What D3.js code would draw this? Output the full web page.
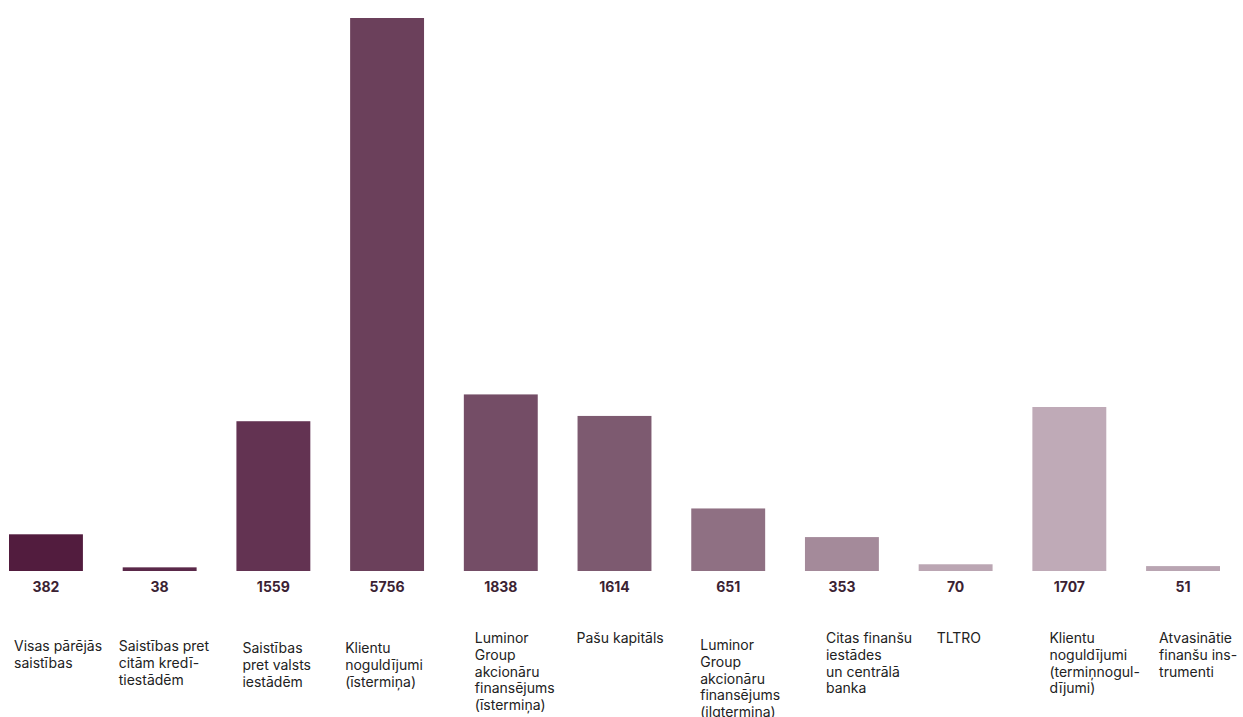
<!DOCTYPE html>
<html>
<head>
<meta charset="utf-8">
<script src="https://cdn.jsdelivr.net/npm/d3@7"></script>
<style>
  html, body { margin: 0; padding: 0; background: #fff; }
  svg { display: block; }
  text { font-family: Inter, "Noto Sans", sans-serif; }
</style>
</head>
<body>
<svg id="chart"></svg>
<script>
const WIDTH = 1243, HEIGHT = 717;

// category labels (line breaks as in the original)
const categories = [
  "Visas pārējās\nsaistības",
  "Saistības pret\ncitām kredī-\ntiestādēm",
  "Saistības\npret valsts\niestādēm",
  "Klientu\nnoguldījumi\n(īstermiņa)",
  "Luminor\nGroup\nakcionāru\nfinansējums\n(īstermiņa)",
  "Pašu kapitāls",
  "Luminor\nGroup\nakcionāru\nfinansējums\n(ilgtermina)",
  "Citas finanšu\niestādes\nun centrālā\nbanka",
  "TLTRO",
  "Klientu\nnoguldījumi\n(termiņnogul-\ndījumi)",
  "Atvasinātie\nfinanšu ins-\ntrumenti"
];
const values = [382, 38, 1559, 5756, 1838, 1614, 651, 353, 70, 1707, 51];
const colors = ["#521c3e", "#5a2849", "#633352", "#6b405b", "#744d66", "#7d5a70",
                "#8f7083", "#a48a9a", "#bba6b3", "#bfaab7", "#b9a5b2"];

// small nudges of the category text, as laid out in the source
const labelDx = [5, -4, 6, -5, 11, -1, 9, 21, 18, 17, 13];
const labelDy = [8, 8, 10, 10, 0, 0, 7, 0, 0, 0, 0];

const BASE = 571, TOP = 18;

let svg = d3.select('#chart').attr('width', WIDTH).attr('height', HEIGHT);

let x = d3.scaleBand()
  .domain(d3.range(values.length))
  .range([9, 1220])
  .paddingInner(0.35)
  .paddingOuter(0);

let y = d3.scaleLinear()
  .domain([0, d3.max(values)])
  .range([BASE, TOP]);

svg.selectAll('rect.bar')
  .data(values)
  .join('rect')
  .attr('class', 'bar')
  .attr('x', (d, i) => x(i))
  .attr('y', d => y(d))
  .attr('width', x.bandwidth())
  .attr('height', d => Math.max(BASE - y(d), 3))
  .attr('fill', (d, i) => colors[i]);

// value labels
svg.selectAll('text.val')
  .data(values)
  .join('text')
  .attr('class', 'val')
  .attr('x', (d, i) => x(i) + x.bandwidth() / 2)
  .attr('y', 592)
  .attr('text-anchor', 'middle')
  .attr('font-size', 14)
  .attr('font-weight', 700)
  .attr('fill', '#3b2233')
  .text(d => d);

// category labels
let lab = svg.selectAll('text.cat')
  .data(categories)
  .join('text')
  .attr('class', 'cat')
  .attr('font-size', 14)
  .attr('fill', '#222')
  .attr('transform', (d, i) => `translate(${x(i) + labelDx[i]},${643 + labelDy[i]})`);

lab.selectAll('tspan')
  .data(d => d.split('\n'))
  .join('tspan')
  .attr('x', 0)
  .attr('y', (d, j) => j * 16.75)
  .text(d => d);
</script>
</body>
</html>
